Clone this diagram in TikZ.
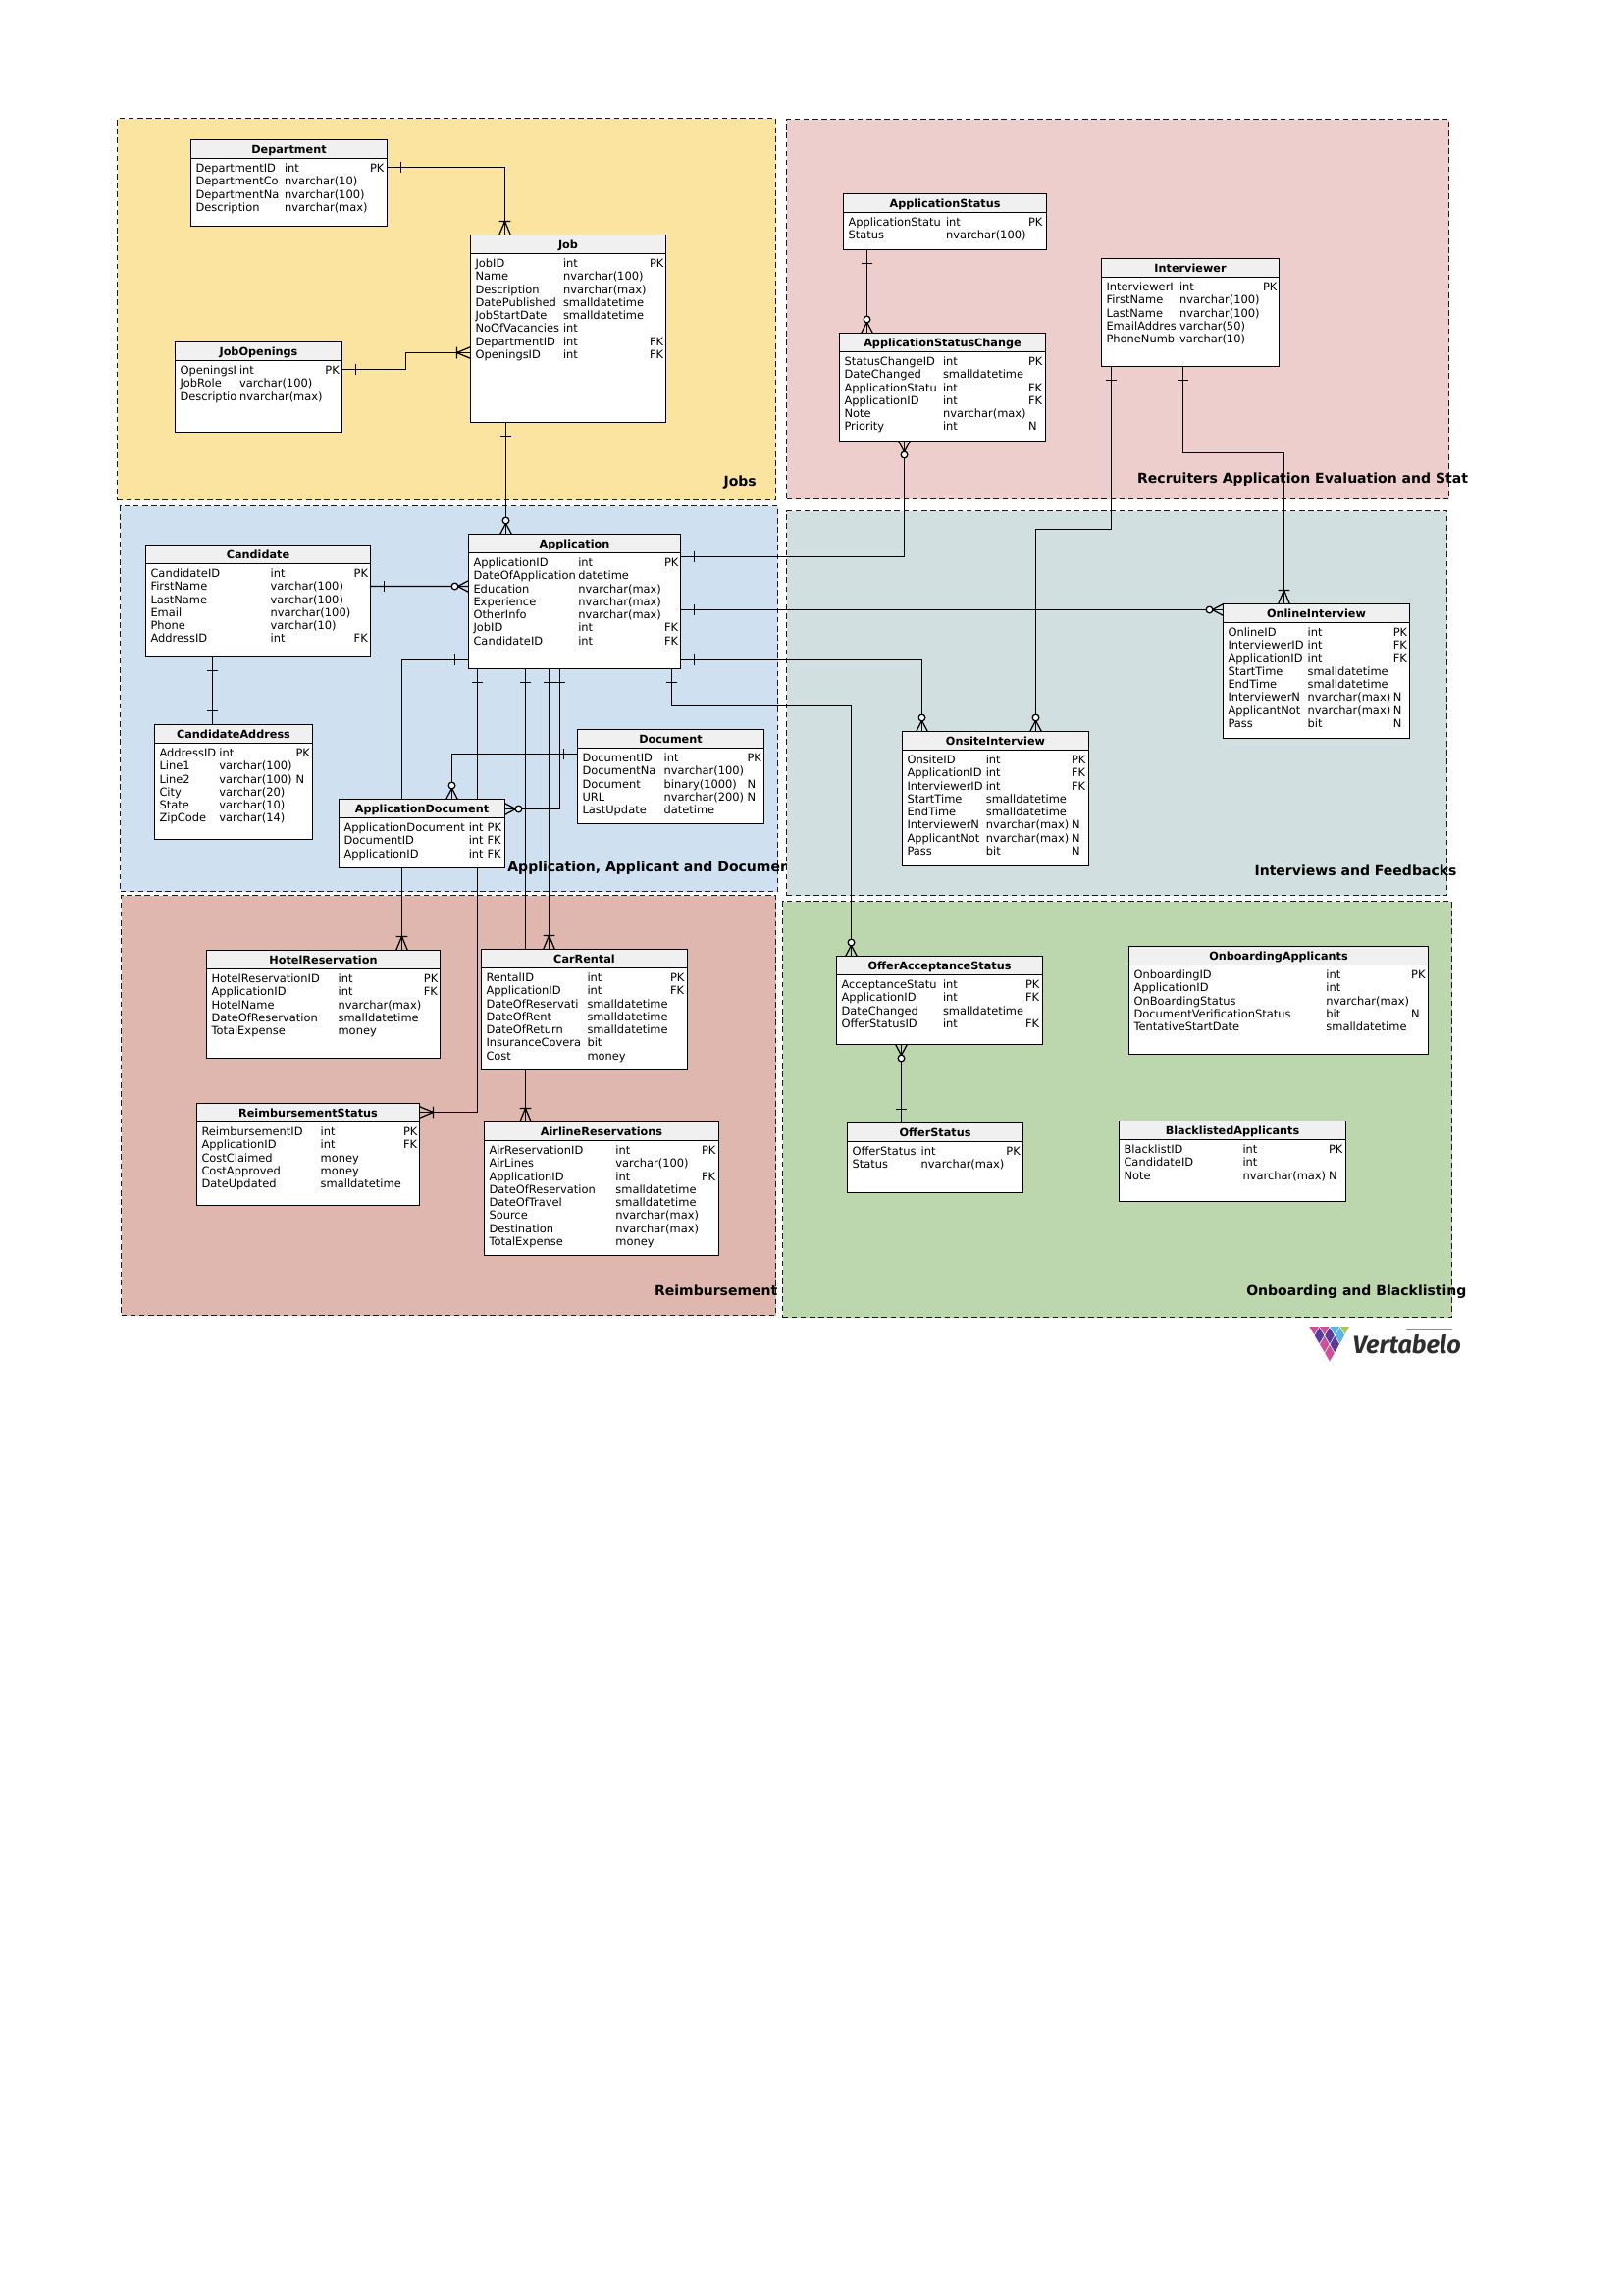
\documentclass[tikz,border=0pt]{standalone}
\usepackage{fontspec}
\setmainfont{DejaVu Sans}
\newfontfamily\logofont{Fira Sans}
\usepackage{tikz}
\usetikzlibrary{fit, calc}
\definecolor{jobcol}{HTML}{FBE4A0}
\definecolor{reccol}{HTML}{EECDCD}
\definecolor{appcol}{HTML}{CFE0F1}
\definecolor{intcol}{HTML}{D2DFE1}
\definecolor{reicol}{HTML}{E0B7AF}
\definecolor{onbcol}{HTML}{BCD6AD}
\definecolor{logopink}{HTML}{C9529B}
\definecolor{logopurple}{HTML}{5B3A98}
\definecolor{logoblue}{HTML}{5AB4E5}
\definecolor{logogreen}{HTML}{A5C85A}
\definecolor{logodark}{HTML}{3C3C5A}
\pgfdeclarelayer{zones}
\pgfdeclarelayer{links}
\pgfsetlayers{zones,links,main}
% crow's foot ends
\pgfdeclarearrow{name=ErOne,
  setup code={\pgfarrowssettipend{0pt}\pgfarrowssetlineend{0pt}\pgfarrowssetbackend{-5.04pt}},
  drawing code={\pgfsetdash{}{0pt}
    \pgfpathmoveto{\pgfpoint{-5.04pt}{-2.1pt}}\pgfpathlineto{\pgfpoint{-5.04pt}{2.1pt}}\pgfusepathqstroke}}
\pgfdeclarearrow{name=ErMany,
  setup code={\pgfarrowssettipend{0pt}\pgfarrowssetlineend{0pt}\pgfarrowssetbackend{-5.04pt}},
  drawing code={\pgfsetdash{}{0pt}
    \pgfpathmoveto{\pgfpoint{-5.04pt}{-2.1pt}}\pgfpathlineto{\pgfpoint{-5.04pt}{2.1pt}}
    \pgfpathmoveto{\pgfpoint{0pt}{-2.1pt}}\pgfpathlineto{\pgfpoint{-5.04pt}{0pt}}\pgfpathlineto{\pgfpoint{0pt}{2.1pt}}\pgfusepathqstroke}}
\pgfdeclarearrow{name=ErZeroMany,
  setup code={\pgfarrowssettipend{0pt}\pgfarrowssetlineend{0pt}\pgfarrowssetbackend{-6.3pt}},
  drawing code={\pgfsetdash{}{0pt}
    \pgfpathmoveto{\pgfpoint{0pt}{-2.1pt}}\pgfpathlineto{\pgfpoint{-4pt}{0pt}}\pgfpathlineto{\pgfpoint{0pt}{2.1pt}}\pgfusepathqstroke
    \pgfsetfillcolor{white}\pgfpathcircle{\pgfpoint{-5.04pt}{0pt}}{1.2pt}\pgfusepathqfillstroke}}
\tikzset{zone/.style={draw=black!90,line width=0.42pt,dash pattern=on 2pt off 1.3pt,inner sep=0pt,outer sep=0pt},
         zonetitle/.style={anchor=west,inner sep=0pt,font=\bfseries\fontsize{5.05}{6}\selectfont},
         erbox/.style={draw=black,fill=white,line width=0.45pt,inner sep=0pt,outer sep=0pt},
         erhead/.style={draw=black,fill=black!6,line width=0.45pt,inner sep=0pt,outer sep=0pt},
         ertitle/.style={anchor=base,inner sep=0pt,outer sep=0pt,font=\bfseries\fontsize{4.05}{5}\selectfont},
         ercell/.style={anchor=base west,inner sep=0pt,outer sep=0pt,font=\fontsize{4.12}{5}\selectfont},
         link/.style={draw=black,line width=0.45pt}}
% name, left, top, right, bottom, title, second column, third column, rows
\newcommand{\ertable}[9]{
  \node (#1) [erbox, fit={(#2,#3)(#4,#5)}] {};
  \node (#1-head) [erhead, fit={(#2,#3)(#4,#3+19)}] {};
  \node (#1-title) [ertitle] at ([shift={(0,4.4)}]#1-head.center) {#6};
  \foreach \colA/\colB/\colC [count=\rownum] in {#9} {
    \node (#1-\rownum-a) [ercell] at (#2+5,#3+33+13.25*\rownum-13.25) {\colA};
    \node (#1-\rownum-b) [ercell] at (#7,#3+33+13.25*\rownum-13.25) {\colB};
    \node (#1-\rownum-c) [ercell] at (#8,#3+33+13.25*\rownum-13.25) {\colC};
  }
}
\begin{document}
\begin{tikzpicture}[x=0.36pt,y=-0.36pt]
  \useasboundingbox (0,0) rectangle (1654,2339);
  \begin{pgfonlayer}{zones}
    \node (jobzone) [zone, fill=jobcol, fit={(119.5,120.5)(790.5,509.5)}] {};
    \node (reczone) [zone, fill=reccol, fit={(801.5,121.5)(1476.5,508.5)}] {};
    \node (appzone) [zone, fill=appcol, fit={(122.5,515.5)(792.5,908.5)}] {};
    \node (intzone) [zone, fill=intcol, fit={(801.5,520.5)(1474.5,912.5)}] {};
    \node (reizone) [zone, fill=reicol, fit={(123.5,912.5)(790.5,1340.5)}] {};
    \node (onbzone) [zone, fill=onbcol, fit={(797.5,918.5)(1479.5,1342.5)}] {};
  \end{pgfonlayer}

  \ertable{dept}{194.5}{142.5}{394.5}{230.5}{Department}{290}{377}{DepartmentID/int/PK, DepartmentCo/nvarchar(10)/, DepartmentNa/nvarchar(100)/, Description/nvarchar(max)/}
  \ertable{job}{479.5}{239.5}{678.5}{430.5}{Job}{574}{662}{JobID/int/PK, Name/nvarchar(100)/, Description/nvarchar(max)/, DatePublished/smalldatetime/, JobStartDate/smalldatetime/, NoOfVacancies/int/, DepartmentID/int/FK, OpeningsID/int/FK}
  \ertable{jobopen}{178.5}{348.5}{348.5}{440.5}{JobOpenings}{244}{331.4}{OpeningsI/int/PK, JobRole/varchar(100)/, Descriptio/nvarchar(max)/}
  \ertable{appstatus}{859.5}{197.5}{1066.5}{254.5}{ApplicationStatus}{964}{1048}{ApplicationStatu/int/PK, Status/nvarchar(100)/}
  \ertable{change}{855.5}{339.5}{1065.5}{449.5}{ApplicationStatusChange}{961}{1048}{StatusChangeID/int/PK, DateChanged/smalldatetime/, ApplicationStatu/int/FK, ApplicationID/int/FK, Note/nvarchar(max)/, Priority/int/N}
  \ertable{interviewer}{1122.5}{263.5}{1303.5}{373.5}{Interviewer}{1202}{1287}{InterviewerI/int/PK, FirstName/nvarchar(100)/, LastName/nvarchar(100)/, EmailAddres/varchar(50)/, PhoneNumb/varchar(10)/}
  \ertable{app}{477.5}{544.5}{693.5}{681.5}{Application}{589.3}{677}{ApplicationID/int/PK, DateOfApplication/datetime/, Education/nvarchar(max)/, Experience/nvarchar(max)/, OtherInfo/nvarchar(max)/, JobID/int/FK, CandidateID/int/FK}
  \ertable{cand}{148.5}{555.5}{377.5}{669.5}{Candidate}{275.7}{360.7}{CandidateID/int/PK, FirstName/varchar(100)/, LastName/varchar(100)/, Email/nvarchar(100)/, Phone/varchar(10)/, AddressID/int/FK}
  \ertable{addr}{157.5}{738.5}{318.5}{855.5}{CandidateAddress}{223.4}{301.5}{AddressID/int/PK, Line1/varchar(100)/, Line2/varchar(100)/N, City/varchar(20)/, State/varchar(10)/, ZipCode/varchar(14)/}
  \ertable{doc}{588.5}{743.5}{778.5}{839.5}{Document}{676.6}{761.5}{DocumentID/int/PK, DocumentNa/nvarchar(100)/, Document/binary(1000)/N, URL/nvarchar(200)/N, LastUpdate/datetime/}
  \ertable{appdoc}{345.5}{814.5}{514.5}{884.5}{ApplicationDocument}{477.8}{496.6}{ApplicationDocument/int/PK, DocumentID/int/FK, ApplicationID/int/FK}
  \ertable{online}{1246.5}{615.5}{1436.5}{752.5}{OnlineInterview}{1332.6}{1419.8}{OnlineID/int/PK, InterviewerID/int/FK, ApplicationID/int/FK, StartTime/smalldatetime/, EndTime/smalldatetime/, InterviewerN/nvarchar(max)/N, ApplicantNot/nvarchar(max)/N, Pass/bit/N}
  \ertable{onsite}{919.5}{745.5}{1109.5}{882.5}{OnsiteInterview}{1004.8}{1092}{OnsiteID/int/PK, ApplicationID/int/FK, InterviewerID/int/FK, StartTime/smalldatetime/, EndTime/smalldatetime/, InterviewerN/nvarchar(max)/N, ApplicantNot/nvarchar(max)/N, Pass/bit/N}
  \ertable{hotel}{210.5}{968.5}{448.5}{1078.5}{HotelReservation}{344.6}{431.9}{HotelReservationID/int/PK, ApplicationID/int/FK, HotelName/nvarchar(max)/, DateOfReservation/smalldatetime/, TotalExpense/money/}
  \ertable{car}{490.5}{967.5}{700.5}{1090.5}{CarRental}{598.5}{683}{RentalID/int/PK, ApplicationID/int/FK, DateOfReservati/smalldatetime/, DateOfRent/smalldatetime/, DateOfReturn/smalldatetime/, InsuranceCovera/bit/, Cost/money/}
  \ertable{reimb}{200.5}{1124.5}{427.5}{1228.5}{ReimbursementStatus}{326.7}{411}{ReimbursementID/int/PK, ApplicationID/int/FK, CostClaimed/money/, CostApproved/money/, DateUpdated/smalldatetime/}
  \ertable{airline}{493.5}{1143.5}{732.5}{1279.5}{AirlineReservations}{627.4}{715}{AirReservationID/int/PK, AirLines/varchar(100)/, ApplicationID/int/FK, DateOfReservation/smalldatetime/, DateOfTravel/smalldatetime/, Source/nvarchar(max)/, Destination/nvarchar(max)/, TotalExpense/money/}
  \ertable{accept}{852.5}{974.5}{1062.5}{1064.5}{OfferAcceptanceStatus}{961}{1045}{AcceptanceStatu/int/PK, ApplicationID/int/FK, DateChanged/smalldatetime/, OfferStatusID/int/FK}
  \ertable{offer}{863.5}{1144.5}{1042.5}{1215.5}{OfferStatus}{938.7}{1025.4}{OfferStatus/int/PK, Status/nvarchar(max)/}
  \ertable{onboard}{1150.5}{964.5}{1455.5}{1074.5}{OnboardingApplicants}{1351.4}{1438.2}{OnboardingID/int/PK, ApplicationID/int/, OnBoardingStatus/nvarchar(max)/, DocumentVerificationStatus/bit/N, TentativeStartDate/smalldatetime/}
  \ertable{black}{1140.5}{1142.5}{1371.5}{1224.5}{BlacklistedApplicants}{1266.5}{1354}{BlacklistID/int/PK, CandidateID/int/, Note/nvarchar(max)/N}

  \node (jobtitle) [zonetitle] at (737,492) {Jobs};
  \node (rectitle) [zonetitle] at (1158.6,489) {Recruiters Application Evaluation and Stat};
  \node (apptitle) [zonetitle] at (516.8,884.5) {Application, Applicant and Documer};
  \node (inttitle) [zonetitle] at (1278,887) {Interviews and Feedbacks};
  \node (reititle) [zonetitle] at (666.5,1315) {Reimbursement};
  \node (onbtitle) [zonetitle] at (1269.7,1317) {Onboarding and Blacklisting};

  \begin{pgfonlayer}{links}
    \draw[link, {ErOne}-{ErMany}] ([shift={(0,28)}]dept.north east) -| ([shift={(35,0)}]job.north west);
    \draw[link, {ErOne}-{ErMany}] ([shift={(0,28)}]jobopen.north east) -- ++(65,0) |- ([shift={(0,120)}]job.north west);
    \draw[link, {ErOne}-{ErZeroMany}] ([shift={(36,0)}]job.south west) -- ([shift={(38,0)}]app.north west);
    \draw[link, {ErOne}-{ErZeroMany}] ([shift={(24,0)}]appstatus.south west) -- ([shift={(28,0)}]change.north west);
    \draw[link, {ErZeroMany}-{ErOne}] ([shift={(66,0)}]change.south west) |- ([shift={(0,23)}]app.north east);
    \draw[link, {ErOne}-{ErZeroMany}] ([shift={(10,0)}]interviewer.south west) -- ++(0,166) -| ([shift={(136,0)}]onsite.north west);
    \draw[link, {ErOne}-{ErMany}] ([shift={(83,0)}]interviewer.south west) -- ++(0,88) -| ([shift={(62,0)}]online.north west);
    \draw[link, {ErOne}-{ErZeroMany}] ([shift={(0,42)}]cand.north east) -- ([shift={(0,53)}]app.north west);
    \draw[link, {ErOne}-{ErOne}] ([shift={(68,0)}]cand.south west) -- ([shift={(59,0)}]addr.north west);
    \draw[link, {ErOne}-{ErZeroMany}] ([shift={(0,77)}]app.north east) -- ([shift={(0,6)}]online.north west);
    \draw[link, {ErOne}-{ErZeroMany}] ([shift={(0,128)}]app.north east) -| ([shift={(20,0)}]onsite.north west);
    \draw[link, {ErOne}-{ErZeroMany}] ([shift={(207,0)}]app.south west) -- ++(0,38) -| ([shift={(15,0)}]accept.north west);
    \draw[link, {ErOne}-{ErMany}] ([shift={(0,128)}]app.north west) -| ([shift={(199,0)}]hotel.north west);
    \draw[link, {ErOne}-{ErMany}] ([shift={(9,0)}]app.south west) |- ([shift={(0,9)}]reimb.north east);
    \draw[link, {ErOne}-{ErMany}] ([shift={(58,0)}]app.south west) -- ([shift={(42,0)}]airline.north west);
    \draw[link, {ErOne}-{ErMany}] ([shift={(82,0)}]app.south west) -- ([shift={(69,0)}]car.north west);
    \draw[link, {ErOne}-{ErZeroMany}] ([shift={(93,0)}]app.south west) |- ([shift={(0,10)}]appdoc.north east);
    \draw[link, {ErOne}-{ErZeroMany}] ([shift={(0,25)}]doc.north west) -| ([shift={(115,0)}]appdoc.north west);
    \draw[link, {ErZeroMany}-{ErOne}] ([shift={(66,0)}]accept.south west) -- ([shift={(55,0)}]offer.north west);
  \end{pgfonlayer}

  % logo
  \begin{scope}
    \clip (1333,1352) -- (1375,1352) -- (1355,1388) -- cycle;
    \foreach \i/\j/\cellcol in {0/0/logopink,1/0/logopink,2/0/logopurple,3/0/logopink,4/0/logodark,
                                0/1/logopurple,1/1/logopurple,2/1/logopink,3/1/logopurple,
                                0/2/logoblue,1/2/logoblue,2/2/logopurple,
                                0/3/logogreen,1/3/logoblue,0/4/logogreen}
      \fill[\cellcol, draw=white, line width=0.15pt] (1355-5.25*\i+5.25*\j,1388-9*\i-9*\j) -- ++(-5.25,-9) -- ++(5.25,-9) -- ++(5.25,9) -- cycle;
  \end{scope}
  \draw[black!45, line width=0.3pt] (1433,1354) -- (1480,1354);
  \node (logo) [anchor=base west,inner sep=0pt,text=black!82,font=\logofont\bfseries\itshape\fontsize{9.1}{11}\selectfont] at (1378,1379) {Vertabelo};
\end{tikzpicture}
\end{document}
